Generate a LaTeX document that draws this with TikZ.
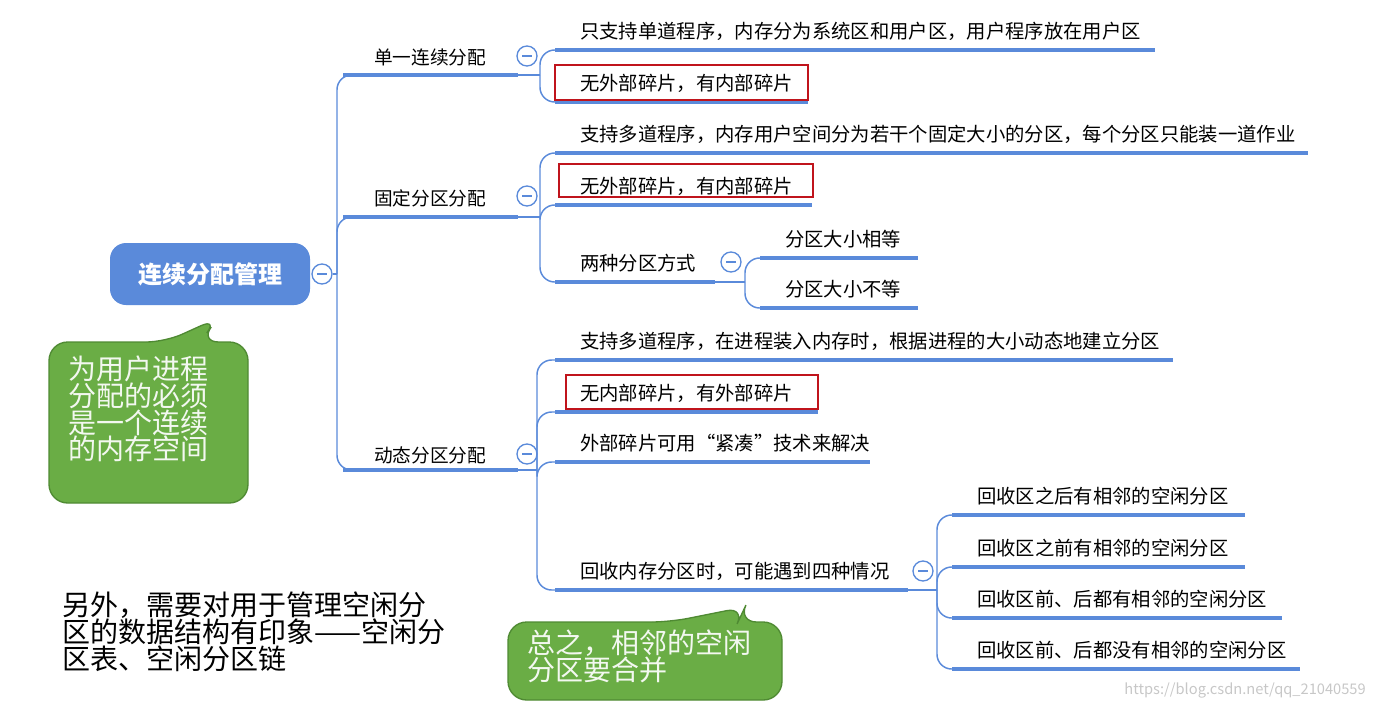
\documentclass[tikz,border=0pt]{standalone}
\usepackage{fontspec}
\setmainfont{Noto Sans CJK SC}
\usetikzlibrary{calc}
\definecolor{bl}{HTML}{5A8ADA}
\definecolor{gr}{HTML}{6AAD45}
\definecolor{grd}{HTML}{4F8A33}
\definecolor{rd}{HTML}{C0141C}
\newcommand\px[1]{\fontsize{#1*0.75pt}{#1*0.9pt}\selectfont}
\newcommand\fsz[1]{\fontsize{#1}{#1}\selectfont}
\tikzset{
 uline/.style={draw=bl,line width=3pt},
 conn/.style={draw=bl,line width=1.1pt,rounded corners=11},
 lab/.style={anchor=west,inner sep=0pt,font=\fsz{14.5pt}},
 lab1/.style={anchor=west,inner sep=0pt,font=\fsz{14pt}},
 redbox/.style={draw=rd,line width=2pt},
 tog/.style={circle,draw=bl,fill=white,line width=1pt,minimum size=15pt,inner sep=0pt,
   path picture={\draw[bl,line width=1pt] ($(path picture bounding box.center)+(-3.5pt,0)$)--++(7pt,0);}},
 callout/.style={fill=gr,draw=grd,line width=1pt,rounded corners=14},
 ctext/.style={anchor=north west,align=left,inner sep=0pt,text=white!92!gr,font=\fsz{21pt},text width=140pt}
}
\newcommand\leaf[5]{% x1 x2 y text name
 \draw[uline] (#1,#3) coordinate (#5s) -- (#2,#3) coordinate (#5e);
 \node[lab] (#5) at (#1+25,#3-19) {#4};}
\begin{document}
\begin{tikzpicture}[x=0.75pt,y=-0.75pt]
\useasboundingbox (0,0) rectangle (1374,707);
% root
\node[fill=bl,rounded corners=12,minimum width=150pt,minimum height=46.5pt,text=white,font=\fsz{18pt}\bfseries] (root) at (210,274) {连续分配管理};
\node[tog] (t0) at (322,274) {};
\coordinate (rb) at (337,274);
\draw[conn,rounded corners=0] (t0.east) -- (rb);
% level 1
\draw[uline] (343,75) coordinate (a1s) -- (518,75) coordinate (a1e);
\node[lab1] (a1) at (374,57) {单一连续分配};
\draw[uline] (343,217) coordinate (a2s) -- (518,217) coordinate (a2e);
\node[lab1] (a2) at (374,198) {固定分区分配};
\draw[uline] (343,470) coordinate (a3s) -- (518,470) coordinate (a3e);
\node[lab1] (a3) at (374,455) {动态分区分配};
\foreach \c in {a1s,a2s,a3s} \draw[conn] (rb) |- (\c);
\node[tog] at (527,56) {};
\node[tog] at (527,196) {};
\node[tog] at (527,454) {};
% single
\leaf{555}{1155}{50}{只支持单道程序，内存分为系统区和用户区，用户程序放在用户区}{b1}
\leaf{555}{808}{102}{无外部碎片，有内部碎片}{b2}
\draw[redbox] (555,65) rectangle (808,100);
\coordinate (j1) at (540,75);
\draw[conn,rounded corners=0] (a1e) -- (j1);
\foreach \c in {b1s,b2s} \draw[conn] (j1) |- (\c);
% fixed
\leaf{555}{1308}{153}{支持多道程序，内存用户空间分为若干个固定大小的分区，每个分区只能装一道作业}{c1}
\leaf{555}{812}{205}{无外部碎片，有内部碎片}{c2}
\draw[redbox] (559,164) rectangle (813,197);
\leaf{555}{715}{282}{两种分区方式}{c3}
\coordinate (j2) at (540,217);
\draw[conn,rounded corners=0] (a2e) -- (j2);
\foreach \c in {c1s,c2s,c3s} \draw[conn] (j2) |- (\c);
\node[tog] at (731,262) {};
\leaf{760}{918}{258}{分区大小相等}{d1}
\leaf{760}{918}{308}{分区大小不等}{d2}
\coordinate (j3) at (745,282);
\draw[conn,rounded corners=0] (c3e) -- (j3);
\foreach \c in {d1s,d2s} \draw[conn] (j3) |- (\c);
% dynamic
\leaf{555}{1173}{360}{支持多道程序，在进程装入内存时，根据进程的大小动态地建立分区}{e1}
\leaf{555}{818}{412}{\hspace{0pt}无内部碎片，有外部碎片}{e2}
\draw[redbox] (566,375) rectangle (818,409);
\leaf{555}{870}{462}{外部碎片可用“紧凑”技术来解决}{e3}
\leaf{555}{908}{590}{回收内存分区时，可能遇到四种情况}{e4}
\coordinate (j4) at (537,470);
\draw[conn,rounded corners=0] (a3e) -- (j4);
\foreach \c in {e1s,e2s,e3s,e4s} \draw[conn] (j4) |- (\c);
\node[tog] at (923,571) {};
\leaf{952}{1245}{515}{回收区之后有相邻的空闲分区}{f1}
\leaf{952}{1245}{567}{回收区之前有相邻的空闲分区}{f2}
\leaf{952}{1282}{618}{回收区前、后都有相邻的空闲分区}{f3}
\leaf{952}{1300}{669}{回收区前、后都没有相邻的空闲分区}{f4}
\coordinate (j5) at (937,590);
\draw[conn,rounded corners=0] (e4e) -- (j5);
\foreach \c in {f1s,f2s,f3s,f4s} \draw[conn] (j5) |- (\c);
% callouts
\draw[callout] (49,342) -- (165,342) -- (218,318) -- (200,342) -- (248,342) -- (248,503) -- (49,503) -- cycle;
\node[ctext] (g1) at (68,356) {为用户进程\\[-1pt]分配的必须\\[-1pt]是一个连续\\[-1pt]的内存空间};
\draw[callout] (508,622) -- (670,622) -- (745,607) -- (738,622) -- (782,622) -- (782,700) -- (508,700) -- cycle;
\node[ctext,text width=200pt] (g2) at (527,630) {总之，相邻的空闲\\[-1pt]分区要合并};
% note
\node[anchor=north west,align=left,inner sep=0pt,font=\fsz{21pt}] (note) at (62,592) {另外，需要对用于管理空闲分\\[-1pt]区的数据结构有印象——空闲分\\[-1pt]区表、空闲分区链};
\node[anchor=east,inner sep=0pt,text=black!22,font=\fsz{11pt}] (wm) at (1366,690) {https://blog.csdn.net/qq\_21040559};
\end{tikzpicture}
\end{document}
